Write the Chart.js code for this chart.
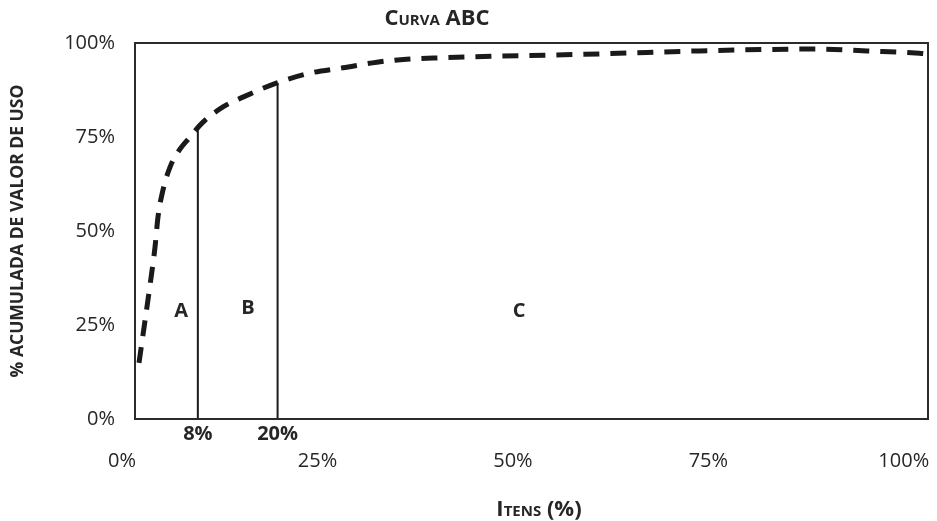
<!DOCTYPE html>
<html>
<head>
<meta charset="utf-8">
<script src="https://cdn.jsdelivr.net/npm/chart.js@4.4.1/dist/chart.umd.min.js"></script>
<style>
  html, body { margin: 0; padding: 0; background: #fff; }
  #wrap { width: 937px; height: 521px; }
</style>
</head>
<body>
<div id="wrap"><canvas id="chart-abc"></canvas></div>
<script>
// Curva ABC : % dos itens x % acumulada de valor de uso
const itensPct = [2.17, 3.58, 4.22, 4.6, 5.24, 6.14, 7.16, 8.7, 10.23, 12.92, 15.47, 19.82, 24.04, 28.26, 32.6, 36.4, 39.8, 48.3, 61.1, 73.9, 88.9, 95.3, 102.0, 103.1];
const valorAcum = [14.9, 35.6, 45.7, 53.7, 60.9, 67.0, 71.0, 75.0, 78.7, 83.0, 85.6, 89.4, 92.0, 93.4, 94.9, 95.7, 96.0, 96.5, 97.1, 97.9, 98.4, 97.9, 97.3, 97.1];

const xTicks = [0, 25, 50, 75, 100];

// linhas de corte entre as classes
const cortesX = [9.7, 19.9];
const cortesTopo = [77.4, 89.4];
const cortesLabels = ["8%", "20%"];

// letras das classes
const classes = ["A", "B", "C"];
const classesX = [7.55, 16.1, 50.8];
const classesY = [28.7, 29.5, 28.7];

const textColor = "#262626";

const curva = itensPct.map((x, i) => ({ x: x, y: valorAcum[i] }));

const cortesDatasets = cortesX.map((x, i) => ({
  label: "corte " + cortesLabels[i],
  data: [{ x: x, y: 0 }, { x: x, y: cortesTopo[i] }],
  borderColor: "#1a1a1a",
  borderWidth: 2,
  pointRadius: 0,
  tension: 0
}));

// moldura, letras, rotulos dos cortes e titulos
const textosPlugin = {
  id: "textos",
  afterDraw(chart) {
    const ctx = chart.ctx;
    const area = chart.chartArea;
    const sx = chart.scales.x;
    const sy = chart.scales.y;

    ctx.save();
    ctx.strokeStyle = "#2b2b2b";
    ctx.lineWidth = 2;
    ctx.strokeRect(area.left, area.top, area.right - area.left, area.bottom - area.top);

    ctx.fillStyle = textColor;
    ctx.textAlign = "center";
    ctx.textBaseline = "middle";

    ctx.font = "bold 20px 'Open Sans'";
    classes.forEach((c, i) => {
      ctx.fillText(c, sx.getPixelForValue(classesX[i]), sy.getPixelForValue(classesY[i]));
    });

    cortesLabels.forEach((t, i) => {
      ctx.fillText(t, sx.getPixelForValue(cortesX[i]), area.bottom + 15);
    });

    ctx.font = "small-caps bold 22px 'Open Sans'";
    if ("fontVariantCaps" in ctx) ctx.fontVariantCaps = "small-caps";
    ctx.fillText("Curva ABC", 437, 19);
    ctx.fillText("Itens (%)", 539, 510);
    ctx.restore();
  }
};

new Chart(document.getElementById("chart-abc"), {
  type: "line",
  data: {
    datasets: [{
      label: "Curva ABC",
      data: curva,
      borderColor: "#1a1a1a",
      borderWidth: 5,
      borderDash: [16, 11],
      borderCapStyle: "butt",
      pointRadius: 0,
      cubicInterpolationMode: "monotone",
      fill: false
    }].concat(cortesDatasets)
  },
  options: {
    responsive: true,
    maintainAspectRatio: false,
    animation: false,
    layout: { padding: { top: 43, right: 9, left: 0, bottom: 0 } },
    plugins: {
      legend: { display: false },
      tooltip: { enabled: false }
    },
    scales: {
      x: {
        type: "linear",
        min: 1.66,
        max: 103.1,
        afterBuildTicks(axis) {
          axis.ticks = xTicks.map(v => ({ value: v }));
        },
        afterFit(scale) {
          scale.height = 102;
          scale.paddingLeft = 0;
          scale.paddingRight = 0;
        },
        grid: { display: false, drawTicks: false },
        border: { display: false },
        ticks: {
          autoSkip: false,
          maxRotation: 0,
          padding: 30,
          color: textColor,
          font: { family: "'Open Sans'", size: 20 },
          callback: v => v + "%"
        }
      },
      y: {
        min: 0,
        max: 100,
        afterFit(scale) {
          scale.width = 135;
          scale.paddingTop = 0;
          scale.paddingBottom = 0;
        },
        grid: { display: false, drawTicks: false },
        border: { display: false },
        ticks: {
          stepSize: 25,
          padding: 20,
          color: textColor,
          font: { family: "'Open Sans'", size: 20 },
          callback: v => v + "%"
        },
        title: {
          display: true,
          text: "% ACUMULADA DE VALOR DE USO",
          color: textColor,
          font: { family: "'Open Sans'", size: 17.5, weight: "bold" },
          padding: { top: 8, bottom: 0 }
        }
      }
    }
  },
  plugins: [textosPlugin]
});
</script>
</body>
</html>
